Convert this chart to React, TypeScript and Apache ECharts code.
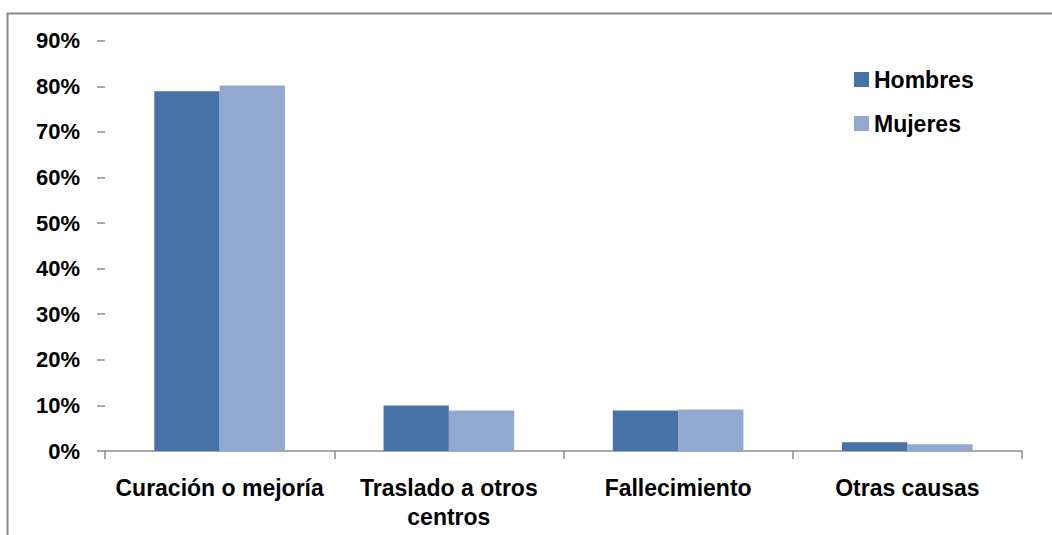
import React, { useEffect, useRef } from "react";
import * as echarts from "echarts";

const categories = ["Curación o mejoría", "Traslado a otros\ncentros", "Fallecimiento", "Otras causas"];
const hombres = [0.789, 0.100, 0.089, 0.019];
const mujeres = [0.802, 0.089, 0.091, 0.015];
const seriesNames = ["Hombres", "Mujeres"];
const colors = ["#4672A8", "#92A9CF"];

const FONT = "'Liberation Sans', Arial, sans-serif";

export default function App() {
  const ref = useRef<HTMLDivElement>(null);
  useEffect(() => {
    if (!ref.current) return;
    const chart = echarts.init(ref.current, null, { renderer: "svg" });
    chart.setOption({
      animation: false,
      backgroundColor: "#ffffff",
      textStyle: { fontFamily: FONT },
      graphic: [
        {
          type: "rect",
          shape: { x: 7.5, y: 13.5, width: 1200, height: 700 },
          style: { fill: "none", stroke: "#8a8a8a", lineWidth: 2 },
          silent: true,
        },
      ],
      legend: {
        orient: "vertical",
        left: 854,
        top: 68,
        padding: 0,
        itemWidth: 15,
        itemHeight: 15,
        itemGap: 21,
        icon: "rect",
        textStyle: { fontSize: 23, fontWeight: "bold", color: "#000", fontFamily: FONT },
        data: seriesNames,
      },
      grid: { left: 105, right: 30, top: 40.7, bottom: 84, containLabel: false },
      xAxis: {
        type: "category",
        data: categories,
        axisLine: { show: true, lineStyle: { color: "#8c8c8c", width: 1.5 } },
        axisTick: { show: true, length: 8, lineStyle: { color: "#8c8c8c", width: 1.5 } },
        axisLabel: {
          interval: 0,
          margin: 22,
          fontSize: 23,
          fontWeight: "bold",
          color: "#000",
          lineHeight: 29,
          fontFamily: FONT,
        },
      },
      yAxis: {
        type: "value",
        min: 0,
        max: 0.9,
        interval: 0.1,
        axisLine: { show: false },
        axisTick: { show: true, length: 8, lineStyle: { color: "#8c8c8c", width: 1.5 } },
        splitLine: { show: false },
        axisLabel: {
          margin: 25,
          fontSize: 22,
          fontWeight: "bold",
          color: "#000",
          fontFamily: FONT,
          formatter: (v: number) => Math.round(v * 100) + "%",
        },
      },
      series: [
        {
          name: seriesNames[0],
          type: "bar",
          data: hombres,
          itemStyle: { color: colors[0] },
          barGap: "0%",
          barCategoryGap: "43%",
        },
        {
          name: seriesNames[1],
          type: "bar",
          data: mujeres,
          itemStyle: { color: colors[1] },
          barGap: "0%",
          barCategoryGap: "43%",
        },
      ],
    });
    return () => chart.dispose();
  }, []);
  return (
    <div
      ref={ref}
      style={{ position: "fixed", left: 0, top: 0, width: 1052, height: 535 }}
    />
  );
}
